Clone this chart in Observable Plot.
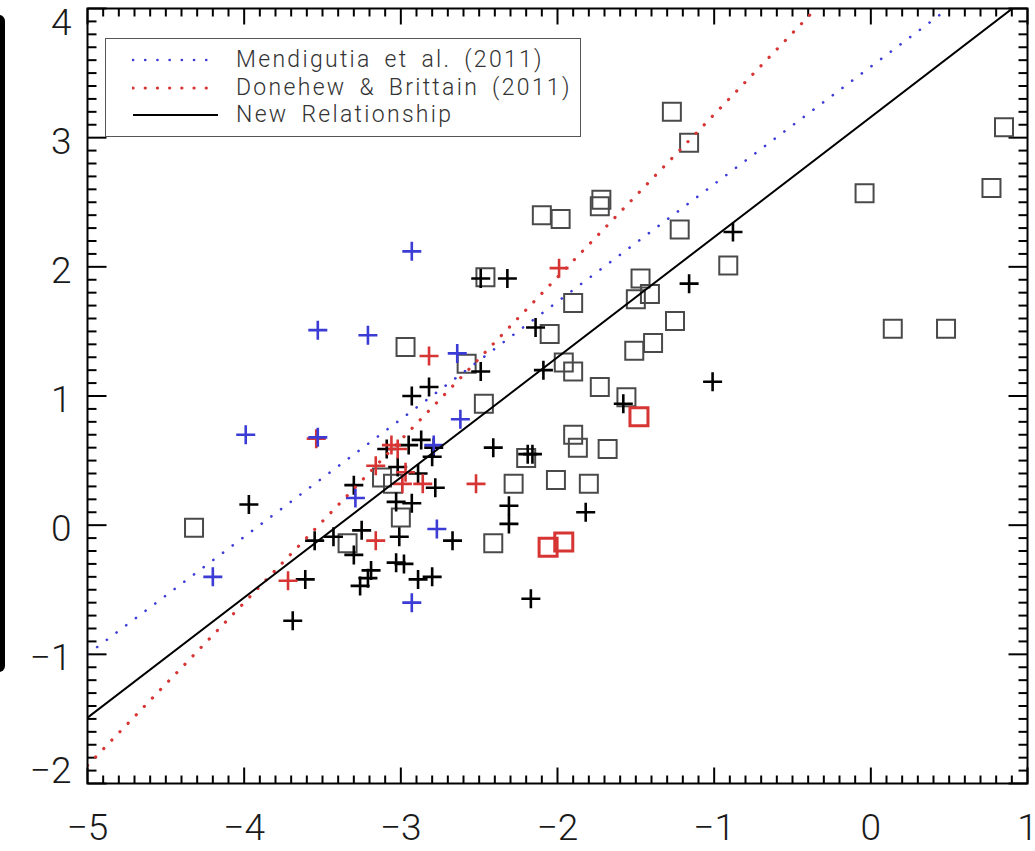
<!DOCTYPE html>
<html>
<head>
<meta charset="utf-8">
<script src="https://cdn.jsdelivr.net/npm/d3@7"></script>
<script src="https://cdn.jsdelivr.net/npm/@observablehq/plot@0.6"></script>
<style>
  html, body { margin: 0; padding: 0; background: #fff; }
  #wrap { position: relative; width: 1035px; height: 851px; overflow: hidden; background: #fff; }
  #wrap svg text { font-weight: 300; }
  #edge { position: absolute; left: -10px; top: 15px; width: 15px; height: 657px; background: #000; border-radius: 6px; }
  #legend { position: absolute; left: 105px; top: 38px; width: 474px; height: 97px; border: 1.5px solid #555; background: #fff;
            font-family: Roboto, "Liberation Sans", sans-serif; font-weight: 300; font-size: 23px; color: #333; letter-spacing: 2.3px; word-spacing: 5px; }
  #legend .row { position: absolute; left: 0; height: 26px; }
  #legend svg { position: absolute; left: 26px; top: 0; }
  #legend span { position: absolute; left: 130px; top: 0; white-space: nowrap; line-height: 26px; }
</style>
</head>
<body>
<div id="wrap">
  <div id="chart"></div>
  <div id="edge"></div>
  <div id="legend"></div>
</div>
<script>
// Axis ranges and tick labels
const xTicks = [-5, -4, -3, -2, -1, 0, 1];
const yTicks = [-2, -1, 0, 1, 2, 3, 4];

// Relations: log L = slope * x + intercept
const fitNames = ["Mendigutia et al. (2011)", "Donehew & Brittain (2011)", "New Relationship"];
const fitSlopes = [0.91, 1.26, 0.93];
const fitIntercepts = [3.55, 4.44, 3.16];

// Black crosses
const blackPlusX = [-3.97,-3.55,-3.43,-3.61,-3.69,-2.93,-2.82,-2.95,-2.87,-2.79,-2.80,-3.09,-3.02,-2.89,-2.78,-3.30,-3.03,-2.93,-3.25,-3.30,-3.01,-2.67,-3.03,-2.98,-3.19,-3.21,-3.26,-2.89,-2.80,-2.49,-2.32,-2.14,-2.09,-2.49,-2.41,-2.19,-2.16,-2.31,-2.31,-1.82,-2.17,-1.58,-0.88,-1.16,-1.01];
const blackPlusY = [0.16,-0.12,-0.09,-0.42,-0.74,1.00,1.07,0.62,0.66,0.60,0.53,0.59,0.45,0.40,0.29,0.31,0.18,0.17,-0.04,-0.23,-0.09,-0.12,-0.29,-0.30,-0.35,-0.41,-0.47,-0.42,-0.40,1.91,1.91,1.53,1.20,1.19,0.60,0.55,0.55,0.15,0.01,0.10,-0.57,0.94,2.27,1.87,1.11];

// Blue crosses
const bluePlusX = [-4.20,-3.99,-3.53,-3.53,-3.21,-2.93,-3.29,-2.93,-2.77,-2.79,-2.62,-2.64];
const bluePlusY = [-0.40,0.70,1.51,0.68,1.47,2.12,0.21,-0.60,-0.03,0.62,0.82,1.33];

// Red crosses
const redPlusX = [-3.72,-3.54,-3.16,-3.16,-3.06,-3.02,-2.97,-2.99,-2.86,-2.82,-2.52,-1.99];
const redPlusY = [-0.43,0.67,0.46,-0.12,0.62,0.59,0.41,0.32,0.32,1.31,0.32,1.99];

// Open squares
const squareX = [-4.32,-2.97,-2.58,-2.47,-3.12,-3.05,-3.00,-3.34,-2.46,-1.90,-2.05,-1.96,-1.90,-1.73,-1.56,-1.90,-1.87,-1.68,-2.20,-2.28,-2.01,-1.80,-2.41,-1.27,-1.16,-1.72,-1.73,-2.10,-1.98,-1.22,-0.91,-1.47,-1.41,-1.50,-1.25,-1.39,-1.51,0.85,0.77,-0.04,0.14,0.48];
const squareY = [-0.02,1.38,1.25,0.94,0.37,0.32,0.06,-0.14,1.92,1.72,1.48,1.26,1.19,1.07,0.99,0.70,0.60,0.59,0.52,0.32,0.35,0.32,-0.14,3.20,2.96,2.52,2.47,2.40,2.37,2.29,2.01,1.91,1.79,1.75,1.58,1.41,1.35,3.08,2.61,2.57,1.52,1.52];

// Red open squares
const redSquareX = [-2.06,-1.96,-1.48];
const redSquareY = [-0.17,-0.13,0.84];

const BLUE = "#3b3bd6";
const RED = "#d73434";
const FONT = 'Roboto, "Liberation Sans", sans-serif';

const pts = (xs, ys) => xs.map((x, i) => ({x, y: ys[i]}));

// Line-drawn plus and square symbols; size = pi * r^2
const plusSym = {draw(ctx, size) { const r = Math.sqrt(size / Math.PI); ctx.moveTo(-r, 0); ctx.lineTo(r, 0); ctx.moveTo(0, -r); ctx.lineTo(0, r); }};
const squareSym = {draw(ctx, size) { const r = Math.sqrt(size / Math.PI); ctx.moveTo(-r, -r); ctx.lineTo(r, -r); ctx.lineTo(r, r); ctx.lineTo(-r, r); ctx.closePath(); }};
// Inward tick segments
const seg = (dx, dy) => ({draw(ctx) { ctx.moveTo(0, 0); ctx.lineTo(dx, dy); }});

const xEnds = [xTicks[0], xTicks[xTicks.length - 1]];
const fitLine = i => xEnds.map(x => ({x, y: fitSlopes[i] * x + fitIntercepts[i]}));

const minor = (lo, hi) => d3.range(Math.round(lo * 10), Math.round(hi * 10) + 1).filter(i => i % 10 !== 0).map(i => i / 10);
const xMinor = minor(-5, 1);
const yMinor = minor(-2, 4);
const fmt = d => d < 0 ? "\u2212" + Math.abs(d) : String(d);

const tickStyle = {stroke: "#000", strokeWidth: 2, fill: "none"};
const labelStyle = {tickSize: 0, tickFormat: fmt, fontSize: 37, fill: "#1a1a1a", label: null};

const chart = Plot.plot({
  width: 1035,
  height: 851,
  marginLeft: 87,
  marginRight: 8,
  marginTop: 8,
  marginBottom: 68,
  x: {domain: [-5, 1], label: null},
  y: {domain: [-2, 4], label: null},
  style: {fontFamily: FONT, background: "#fff", overflow: "visible"},
  marks: [
    // tick labels
    Plot.axisX({anchor: "bottom", ticks: xTicks, tickPadding: 30, ...labelStyle}),
    Plot.axisY({anchor: "left", ticks: yTicks.slice(1, -1), tickPadding: 16, dy: 4, ...labelStyle}),
    Plot.axisY({anchor: "left", ticks: yTicks.slice(-1), tickPadding: 16, dy: 15, ...labelStyle}),
    Plot.axisY({anchor: "left", ticks: yTicks.slice(0, 1), tickPadding: 16, dy: -12, ...labelStyle}),

    // inward ticks on all four sides
    Plot.dot(xTicks, {x: d => d, frameAnchor: "bottom", symbol: seg(0, -16), ...tickStyle}),
    Plot.dot(xMinor, {x: d => d, frameAnchor: "bottom", symbol: seg(0, -8), ...tickStyle}),
    Plot.dot(xTicks, {x: d => d, frameAnchor: "top", symbol: seg(0, 16), ...tickStyle}),
    Plot.dot(xMinor, {x: d => d, frameAnchor: "top", symbol: seg(0, 8), ...tickStyle}),
    Plot.dot(yTicks, {y: d => d, frameAnchor: "left", symbol: seg(19, 0), ...tickStyle}),
    Plot.dot(yMinor, {y: d => d, frameAnchor: "left", symbol: seg(9, 0), ...tickStyle}),
    Plot.dot(yTicks, {y: d => d, frameAnchor: "right", symbol: seg(-19, 0), ...tickStyle}),
    Plot.dot(yMinor, {y: d => d, frameAnchor: "right", symbol: seg(-9, 0), ...tickStyle}),

    // data
    Plot.dot(pts(squareX, squareY), {x: "x", y: "y", symbol: squareSym, r: 9, fill: "none", stroke: "#4a4a4a", strokeWidth: 2}),
    Plot.dot(pts(blackPlusX, blackPlusY), {x: "x", y: "y", symbol: plusSym, r: 9.5, fill: "none", stroke: "#000", strokeWidth: 2.6}),
    Plot.dot(pts(redPlusX, redPlusY), {x: "x", y: "y", symbol: plusSym, r: 9.5, fill: "none", stroke: RED, strokeWidth: 2.6}),
    Plot.dot(pts(bluePlusX, bluePlusY), {x: "x", y: "y", symbol: plusSym, r: 9.5, fill: "none", stroke: BLUE, strokeWidth: 2.6}),
    Plot.dot(pts(redSquareX, redSquareY), {x: "x", y: "y", symbol: squareSym, r: 9, fill: "none", stroke: RED, strokeWidth: 3}),

    // relations
    Plot.line(fitLine(0), {x: "x", y: "y", clip: true, stroke: BLUE, strokeWidth: 2.6, strokeDasharray: "0.1 12", strokeLinecap: "round"}),
    Plot.line(fitLine(1), {x: "x", y: "y", clip: true, stroke: RED, strokeWidth: 3.2, strokeDasharray: "0.1 11.6", strokeLinecap: "round"}),
    Plot.line(fitLine(2), {x: "x", y: "y", clip: true, stroke: "#000", strokeWidth: 2}),

    Plot.frame({stroke: "#000", strokeWidth: 2})
  ]
});
document.getElementById("chart").appendChild(chart);

// legend box inside the plot area
const legendStyles = [
  {stroke: BLUE, width: 2.6, dash: "0.1 12.1", cap: "round"},
  {stroke: RED, width: 3.2, dash: "0.1 12.1", cap: "round"},
  {stroke: "#000", width: 2, dash: null, cap: "butt"}
];
const legend = d3.select("#legend");
fitNames.forEach((name, i) => {
  const row = legend.append("div").attr("class", "row").style("top", (8 + i * 27.5) + "px").style("width", "100%");
  const s = row.append("svg").attr("width", 90).attr("height", 26);
  const st = legendStyles[i];
  s.append("line").attr("x1", 1).attr("x2", 86).attr("y1", 13).attr("y2", 13)
    .attr("stroke", st.stroke).attr("stroke-width", st.width)
    .attr("stroke-dasharray", st.dash).attr("stroke-linecap", st.cap);
  row.append("span").text(name);
});
</script>
</body>
</html>
